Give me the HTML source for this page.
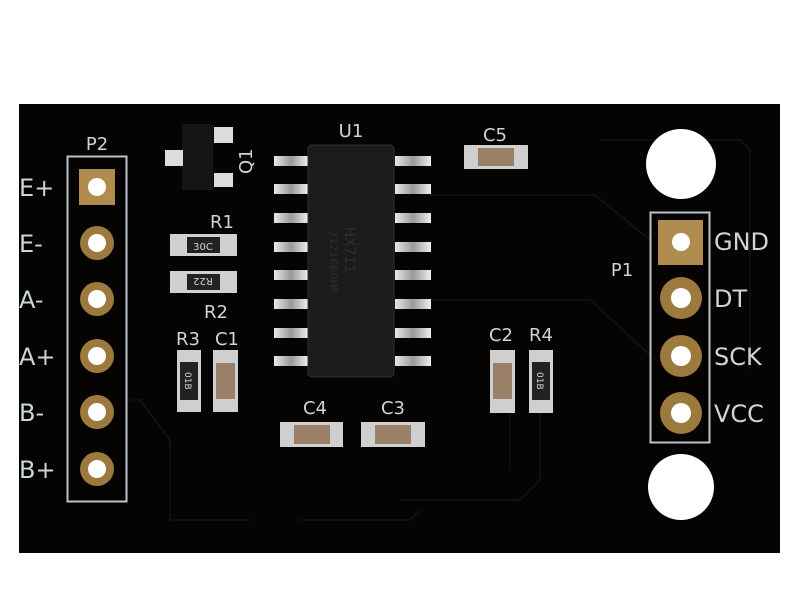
<!DOCTYPE html>
<html><head><meta charset="utf-8"><style>
html,body{margin:0;padding:0;background:#fff;width:800px;height:600px;overflow:hidden}
svg{display:block}
text{font-family:"DejaVu Sans","Liberation Sans",sans-serif;fill:#c9d6dc}
</style></head><body>
<svg width="800" height="600" viewBox="0 0 800 600" xmlns="http://www.w3.org/2000/svg">
<defs>
<linearGradient id="pin" x1="0" x2="1"><stop offset="0" stop-color="#e8e8e8"/><stop offset="0.5" stop-color="#9a9a9a"/><stop offset="1" stop-color="#eee"/></linearGradient>
</defs>
<rect x="0" y="0" width="800" height="600" fill="#fff"/>
<rect x="19" y="104" width="761" height="449" fill="#060303"/>
<g stroke="#151313" stroke-width="1.5" fill="none">
<path d="M430 195 L595 195 L650 240"/>
<path d="M430 300 L590 300 L650 355"/>
<path d="M600 140 L740 140 L750 150 L750 370"/>
<path d="M130 400 L140 400 L170 440 L170 520 L250 520"/>
<path d="M300 520 L410 520 L420 510"/>
<path d="M540 410 L540 480 L520 500 L400 500"/>
<path d="M510 412 L510 470"/>
</g>
<circle cx="681" cy="164" r="35" fill="#fff"/>
<circle cx="681" cy="487" r="33" fill="#fff"/>
<!-- P2 -->
<rect x="67.5" y="156.5" width="59" height="345" fill="none" stroke="#b8c6cc" stroke-width="2"/>
<text x="97" y="150" font-size="18" text-anchor="middle">P2</text>
<rect x="79" y="169" width="36" height="36" fill="#b08c4e"/>
<circle cx="97" cy="187" r="9" fill="#fff"/>
<circle cx="97" cy="243" r="17" fill="#9c7a3e"/><circle cx="97" cy="243" r="9" fill="#fff"/>
<circle cx="97" cy="299" r="17" fill="#9c7a3e"/><circle cx="97" cy="299" r="9" fill="#fff"/>
<circle cx="97" cy="356" r="17" fill="#9c7a3e"/><circle cx="97" cy="356" r="9" fill="#fff"/>
<circle cx="97" cy="412" r="17" fill="#9c7a3e"/><circle cx="97" cy="412" r="9" fill="#fff"/>
<circle cx="97" cy="469" r="17" fill="#9c7a3e"/><circle cx="97" cy="469" r="9" fill="#fff"/>
<g font-size="24">
<text x="19" y="196">E+</text>
<text x="19" y="252">E-</text>
<text x="19" y="308">A-</text>
<text x="19" y="365">A+</text>
<text x="19" y="421">B-</text>
<text x="19" y="478">B+</text>
</g>
<!-- P1 -->
<rect x="650.5" y="212.5" width="59" height="230" fill="none" stroke="#b8c6cc" stroke-width="2"/>
<text x="622" y="276" font-size="18" text-anchor="middle">P1</text>
<rect x="658" y="220" width="45" height="45" fill="#b08c4e"/>
<circle cx="681" cy="242" r="9" fill="#fff"/>
<circle cx="681" cy="298" r="21" fill="#9c7a3e"/><circle cx="681" cy="298" r="10" fill="#fff"/>
<circle cx="681" cy="356" r="21" fill="#9c7a3e"/><circle cx="681" cy="356" r="10" fill="#fff"/>
<circle cx="681" cy="413" r="21" fill="#9c7a3e"/><circle cx="681" cy="413" r="10" fill="#fff"/>
<g font-size="24">
<text x="714" y="250">GND</text>
<text x="714" y="307">DT</text>
<text x="714" y="365">SCK</text>
<text x="714" y="422">VCC</text>
</g>
<!-- U1 -->
<text x="351" y="137" font-size="18" text-anchor="middle">U1</text>
<g fill="url(#pin)">
<rect x="274" y="156" width="34" height="10"/><rect x="274" y="184" width="34" height="10"/>
<rect x="274" y="213" width="34" height="10"/><rect x="274" y="242" width="34" height="10"/>
<rect x="274" y="270" width="34" height="10"/><rect x="274" y="299" width="34" height="10"/>
<rect x="274" y="328" width="34" height="10"/><rect x="274" y="356" width="34" height="10"/>
<rect x="395" y="156" width="36" height="10"/><rect x="395" y="184" width="36" height="10"/>
<rect x="395" y="213" width="36" height="10"/><rect x="395" y="242" width="36" height="10"/>
<rect x="395" y="270" width="36" height="10"/><rect x="395" y="299" width="36" height="10"/>
<rect x="395" y="328" width="36" height="10"/><rect x="395" y="356" width="36" height="10"/>
</g>
<rect x="308" y="145" width="86" height="232" rx="4" fill="#1c1b1b" stroke="#333" stroke-width="1"/>
<text font-size="14" style="fill:#2f2f2f" transform="translate(345,250) rotate(90)" text-anchor="middle">HX711</text>
<text font-size="11" style="fill:#2f2f2f" transform="translate(330,262) rotate(90)" text-anchor="middle">7121660HF</text>
<!-- Q1 -->
<rect x="182" y="124" width="31" height="66" fill="#161515"/>
<rect x="165" y="150" width="18" height="16" fill="#ddd"/>
<rect x="214" y="127" width="19" height="16" fill="#ddd"/>
<rect x="214" y="173" width="19" height="14" fill="#ddd"/>
<text font-size="18" transform="translate(252,174) rotate(-90)">Q1</text>
<!-- R1 R2 -->
<text x="222" y="228" font-size="18" text-anchor="middle">R1</text>
<rect x="170" y="234" width="67" height="22" fill="#d0d0d0"/><rect x="187" y="237" width="33" height="16" fill="#222"/>
<text x="203" y="250" font-size="10" text-anchor="middle">30C</text>
<rect x="170" y="271" width="67" height="22" fill="#d0d0d0"/><rect x="187" y="274" width="33" height="16" fill="#222"/>
<text font-size="10" text-anchor="middle" transform="translate(203,278) rotate(180)">R22</text>
<text x="216" y="318" font-size="18" text-anchor="middle">R2</text>
<!-- R3 C1 -->
<text x="188" y="345" font-size="18" text-anchor="middle">R3</text>
<text x="227" y="345" font-size="18" text-anchor="middle">C1</text>
<rect x="177" y="350" width="24" height="62" fill="#cfcfcf"/><rect x="180" y="362" width="18" height="38" fill="#222"/>
<text font-size="9" transform="translate(185,372) rotate(90)">01B</text>
<rect x="213" y="350" width="25" height="62" fill="#cfcfcf"/><rect x="216" y="363" width="19" height="36" fill="#9a8066"/>
<!-- C4 C3 -->
<text x="315" y="414" font-size="18" text-anchor="middle">C4</text>
<text x="393" y="414" font-size="18" text-anchor="middle">C3</text>
<rect x="280" y="422" width="63" height="25" fill="#cfcfcf"/><rect x="294" y="425" width="36" height="19" fill="#9a8066"/>
<rect x="361" y="422" width="64" height="25" fill="#cfcfcf"/><rect x="375" y="425" width="36" height="19" fill="#9a8066"/>
<!-- C5 -->
<text x="495" y="141" font-size="18" text-anchor="middle">C5</text>
<rect x="464" y="145" width="64" height="24" fill="#cfcfcf"/><rect x="478" y="148" width="36" height="18" fill="#9a8066"/>
<!-- C2 R4 -->
<text x="501" y="341" font-size="18" text-anchor="middle">C2</text>
<text x="541" y="341" font-size="18" text-anchor="middle">R4</text>
<rect x="490" y="350" width="25" height="63" fill="#cfcfcf"/><rect x="493" y="363" width="19" height="36" fill="#9a8066"/>
<rect x="529" y="350" width="24" height="63" fill="#cfcfcf"/><rect x="532" y="362" width="18" height="38" fill="#222"/>
<text font-size="9" transform="translate(537,372) rotate(90)">01B</text>
</svg>
</body></html>
